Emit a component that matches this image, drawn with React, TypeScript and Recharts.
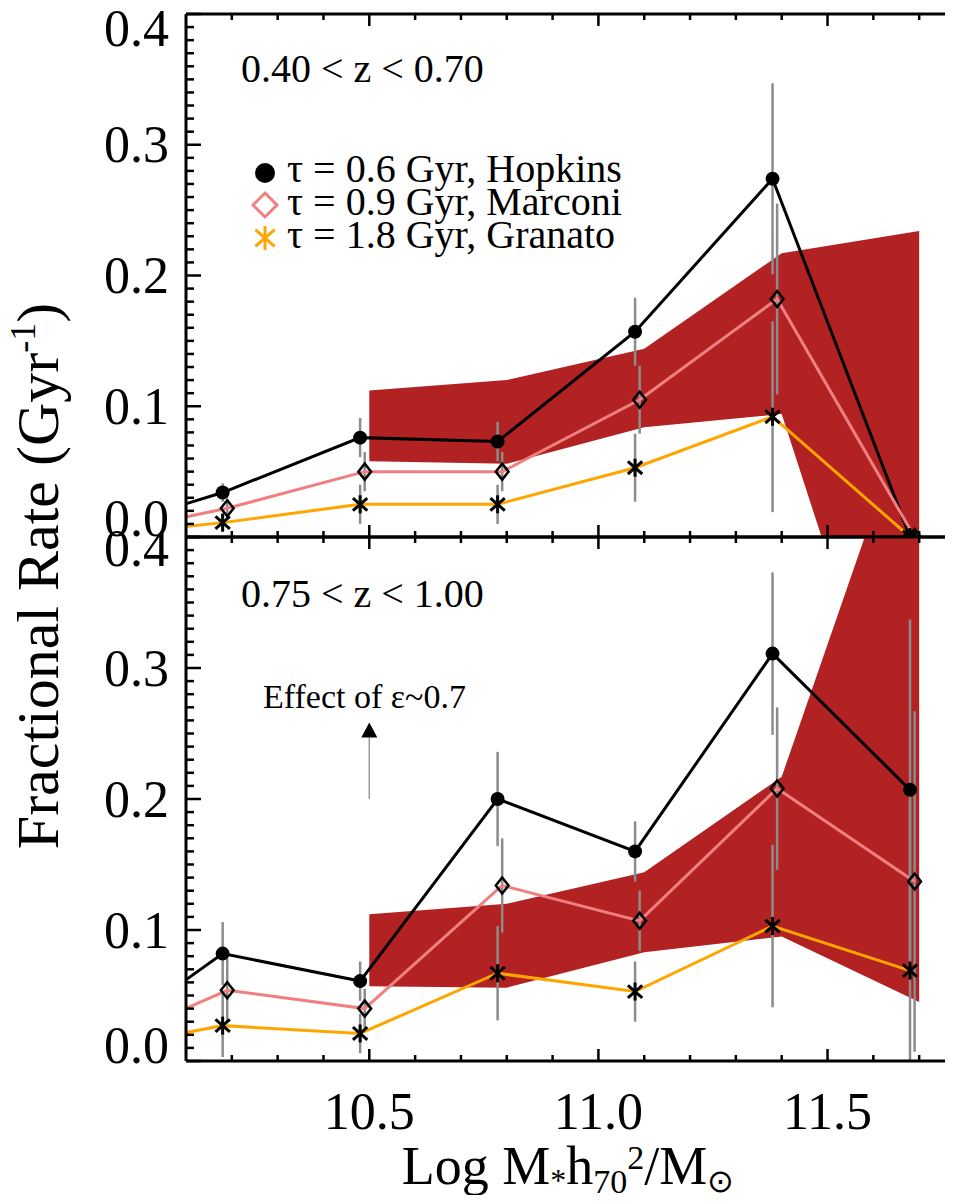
import React from 'react';
import {
  ComposedChart,
  Line,
  Area,
  XAxis,
  YAxis,
  ErrorBar,
  ReferenceLine,
  ReferenceDot,
} from 'recharts';

const FONT = "'Liberation Serif', 'Times New Roman', Times, serif";

// mass bins; the first one sits left of the plotted range, only its line segment shows
const massBins = [9.88, 10.18, 10.48, 10.78, 11.08, 11.38, 11.68];
const marconiShift = 0.01;

// 0.40 < z < 0.70
const hopkinsLow = [0.002, 0.034, 0.076, 0.073, 0.157, 0.274, 0.0];
const marconiLow = [0.0, 0.022, 0.05, 0.05, 0.105, 0.182, 0.0];
const granatoLow = [0.0, 0.011, 0.025, 0.025, 0.053, 0.092, 0.0];
const errLow = [0, 0.007, 0.015, 0.015, 0.026, 0.073, 0];

// 0.75 < z < 1.00
const hopkinsHigh = [0.007, 0.082, 0.061, 0.2, 0.16, 0.311, 0.207];
const marconiHigh = [0.008, 0.054, 0.04, 0.134, 0.107, 0.208, 0.137];
const granatoHigh = [0.007, 0.027, 0.021, 0.067, 0.053, 0.103, 0.069];
const errHigh = [0, 0.024, 0.015, 0.036, 0.023, 0.062, 0.13];

// shaded band
const bandX = [10.5, 10.8, 11.1, 11.4, 11.7];
const bandLowMin = [0.058, 0.056, 0.084, 0.094, -0.23];
const bandLowMax = [0.112, 0.12, 0.144, 0.217, 0.234];
const bandHighMin = [0.057, 0.056, 0.083, 0.095, 0.045];
const bandHighMax = [0.112, 0.12, 0.144, 0.217, 0.52];

const xTicks = [10.2, 10.3, 10.4, 10.5, 10.6, 10.7, 10.8, 10.9, 11.0, 11.1, 11.2, 11.3, 11.4, 11.5, 11.6, 11.7];
const xMajor = [10.5, 11.0, 11.5];
const xLabels = ['10.5', '11.0', '11.5'];
const yMajor = [0, 0.1, 0.2, 0.3, 0.4];
const yLabels = ['0.0', '0.1', '0.2', '0.3', '0.4'];
const yTicks: number[] = [];
for (let i = 0; i <= 40; i++) yTicks.push(i / 100);

// error bars stop at the lower axis, like the clipped plot
const toSeries = (vals: number[], errs: number[], shift: number) =>
  massBins.map((m, i) => ({ x: m + shift, y: vals[i], err: [Math.min(errs[i], vals[i]), errs[i]] }));
const toBand = (lo: number[], hi: number[]) => bandX.map((x, i) => ({ x, range: [lo[i], hi[i]] }));

const near = (a: number, b: number) => Math.abs(a - b) < 1e-6;
const majorIndex = (list: number[], v: number) => list.findIndex((m) => near(m, v));

const axisStyle = { stroke: '#000', strokeWidth: 3 };

const leftTick = (topShift: number, bottomShift: number) => (p: any) => {
  const v = p.payload.value;
  const k = majorIndex(yMajor, v);
  const len = k >= 0 ? 15 : 8;
  let dy = 0;
  if (k === 4) dy = topShift;
  if (k === 0) dy = bottomShift;
  return (
    <g key={`l${p.index}`}>
      <line x1={p.x} y1={p.y} x2={p.x + len} y2={p.y} stroke="#000" strokeWidth={2.5} />
      {k >= 0 && (
        <text x={p.x - 17} y={p.y + dy} textAnchor="end" dominantBaseline="central" fontSize={52} fontFamily={FONT} fill="#000">
          {yLabels[k]}
        </text>
      )}
    </g>
  );
};

const rightTick = (p: any) => {
  const len = majorIndex(yMajor, p.payload.value) >= 0 ? 15 : 8;
  return <line key={`r${p.index}`} x1={p.x} y1={p.y} x2={p.x - len} y2={p.y} stroke="#000" strokeWidth={2.5} />;
};

const topTick = (p: any) => {
  const len = majorIndex(xMajor, p.payload.value) >= 0 ? 12 : 6;
  return <line key={`t${p.index}`} x1={p.x} y1={p.y} x2={p.x} y2={p.y + len} stroke="#000" strokeWidth={2.5} />;
};

const bottomTick = (withLabels: boolean) => (p: any) => {
  const k = majorIndex(xMajor, p.payload.value);
  const len = k >= 0 ? 12 : 6;
  return (
    <g key={`b${p.index}`}>
      <line x1={p.x} y1={p.y} x2={p.x} y2={p.y - len} stroke="#000" strokeWidth={2.5} />
      {withLabels && k >= 0 && (
        <text x={p.x} y={p.y + 50} textAnchor="middle" dominantBaseline="central" fontSize={52} fontFamily={FONT} fill="#000">
          {xLabels[k]}
        </text>
      )}
    </g>
  );
};

const hidden = (p: any) => p.payload.x < 10.1;

const circleDot = (p: any) =>
  hidden(p) ? <g key={`c${p.index}`} /> : <circle key={`c${p.index}`} cx={p.cx} cy={p.cy} r={7} fill="#000" />;

const diamondDot = (p: any) => {
  if (hidden(p)) return <g key={`d${p.index}`} />;
  const s = 8;
  return (
    <polygon
      key={`d${p.index}`}
      points={`${p.cx},${p.cy - s} ${p.cx + s * 0.8},${p.cy} ${p.cx},${p.cy + s} ${p.cx - s * 0.8},${p.cy}`}
      fill="none"
      stroke="#000"
      strokeWidth={2.5}
    />
  );
};

const Asterisk = ({ cx, cy, s, color, w }: { cx: number; cy: number; s: number; color: string; w: number }) => (
  <g stroke={color} strokeWidth={w} strokeLinecap="butt">
    <line x1={cx} y1={cy - s} x2={cx} y2={cy + s} />
    <line x1={cx - s * 0.8} y1={cy - s * 0.7} x2={cx + s * 0.8} y2={cy + s * 0.7} />
    <line x1={cx - s * 0.8} y1={cy + s * 0.7} x2={cx + s * 0.8} y2={cy - s * 0.7} />
  </g>
);

const starDot = (p: any) =>
  hidden(p) ? (
    <g key={`s${p.index}`} />
  ) : (
    <g key={`s${p.index}`}>
      <Asterisk cx={p.cx} cy={p.cy} s={9} color="#000" w={3} />
    </g>
  );

const errStyle = { stroke: '#8c8c8c', strokeWidth: 2.5 };

function Panel(props: {
  height: number;
  topH: number;
  bottomH: number;
  hop: number[];
  mar: number[];
  gra: number[];
  err: number[];
  band: { x: number; range: number[] }[];
  topShift: number;
  bottomShift: number;
  withLabels: boolean;
  children?: React.ReactNode;
}) {
  const { height, topH, bottomH, hop, mar, gra, err, band, topShift, bottomShift, withLabels } = props;
  return (
    <ComposedChart width={1000} height={height} margin={{ top: 0, right: 0, bottom: 0, left: 0 }}>
      <XAxis
        xAxisId="b"
        type="number"
        dataKey="x"
        orientation="bottom"
        domain={[10.1, 11.8]}
        allowDataOverflow
        ticks={xTicks}
        interval={0}
        tickSize={0}
        tickMargin={0}
        tickLine={false}
        tick={bottomTick(withLabels)}
        axisLine={axisStyle}
        height={bottomH}
      />
      <XAxis
        xAxisId="t"
        type="number"
        dataKey="x"
        orientation="top"
        domain={[10.1, 11.8]}
        allowDataOverflow
        ticks={xTicks}
        interval={0}
        tickSize={0}
        tickMargin={0}
        tickLine={false}
        tick={topTick}
        axisLine={axisStyle}
        height={topH}
      />
      <YAxis
        yAxisId="l"
        type="number"
        orientation="left"
        domain={[0, 0.4]}
        allowDataOverflow
        ticks={yTicks}
        interval={0}
        tickSize={0}
        tickMargin={0}
        tickLine={false}
        tick={leftTick(topShift, bottomShift)}
        axisLine={axisStyle}
        width={186}
      />
      <YAxis
        yAxisId="r"
        type="number"
        orientation="right"
        domain={[0, 0.4]}
        allowDataOverflow
        ticks={yTicks}
        interval={0}
        tickSize={0}
        tickMargin={0}
        tickLine={false}
        tick={rightTick}
        axisLine={axisStyle}
        width={35}
      />
      <Area
        xAxisId="b"
        yAxisId="l"
        data={band}
        dataKey="range"
        type="linear"
        stroke="none"
        fill="#b22222"
        fillOpacity={1}
        isAnimationActive={false}
      />
      <Line
        xAxisId="b"
        yAxisId="l"
        data={toSeries(hop, err, 0)}
        dataKey="y"
        type="linear"
        stroke="#000"
        strokeWidth={3}
        dot={circleDot}
        activeDot={false}
        isAnimationActive={false}
      >
        <ErrorBar dataKey="err" direction="y" width={0} {...errStyle} />
      </Line>
      <Line
        xAxisId="b"
        yAxisId="l"
        data={toSeries(mar, err, marconiShift)}
        dataKey="y"
        type="linear"
        stroke="#f08080"
        strokeWidth={3}
        dot={diamondDot}
        activeDot={false}
        isAnimationActive={false}
      >
        <ErrorBar dataKey="err" direction="y" width={0} {...errStyle} />
      </Line>
      <Line
        xAxisId="b"
        yAxisId="l"
        data={toSeries(gra, err, 0)}
        dataKey="y"
        type="linear"
        stroke="#ffa500"
        strokeWidth={3}
        dot={starDot}
        activeDot={false}
        isAnimationActive={false}
      >
        <ErrorBar dataKey="err" direction="y" width={0} {...errStyle} />
      </Line>
      {props.children}
    </ComposedChart>
  );
}

const arrowHead = (p: any) => (
  <polygon points={`${p.cx},${p.cy - 15} ${p.cx + 8},${p.cy} ${p.cx - 8},${p.cy}`} fill="#000" />
);

const legendRows = [
  { label: 'τ = 0.6 Gyr, Hopkins', y: 182 },
  { label: 'τ = 0.9 Gyr, Marconi', y: 215 },
  { label: 'τ = 1.8 Gyr, Granato', y: 248 },
];

export default function App() {
  return (
    <div style={{ position: 'relative', width: 953, height: 1203, overflow: 'hidden', margin: -8, background: '#fff' }}>
      <div style={{ position: 'absolute', left: 0, top: 0 }}>
        <Panel
          height={560}
          topH={14}
          bottomH={23}
          hop={hopkinsLow}
          mar={marconiLow}
          gra={granatoLow}
          err={errLow}
          band={toBand(bandLowMin, bandLowMax)}
          topShift={14}
          bottomShift={-19}
          withLabels={false}
        />
      </div>
      <div style={{ position: 'absolute', left: 0, top: 520 }}>
        <Panel
          height={683}
          topH={17}
          bottomH={142}
          hop={hopkinsHigh}
          mar={marconiHigh}
          gra={granatoHigh}
          err={errHigh}
          band={toBand(bandHighMin, bandHighMax)}
          topShift={11}
          bottomShift={-16}
          withLabels
        >
          <ReferenceLine
            xAxisId="b"
            yAxisId="l"
            segment={[{ x: 10.5, y: 0.2 }, { x: 10.5, y: 0.247 }]}
            stroke="#999"
            strokeWidth={1.5}
          />
          <ReferenceDot xAxisId="b" yAxisId="l" x={10.5} y={0.247} r={8} shape={arrowHead} />
        </Panel>
      </div>
      <svg
        width={953}
        height={1203}
        style={{ position: 'absolute', left: 0, top: 0, pointerEvents: 'none' }}
        fontFamily={FONT}
      >
        <text x={58} y={576} transform="rotate(-90 58 576)" textAnchor="middle" fontSize={60} fill="#000">
          Fractional Rate (Gyr<tspan dy={-23} fontSize={36}>-1</tspan>
          <tspan dy={23}>)</tspan>
        </text>
        <text x={568} y={1184} textAnchor="middle" fontSize={54} fill="#000">
          Log M<tspan dy={7} fontSize={32}>*</tspan>
          <tspan dy={-7}>h</tspan>
          <tspan dy={9} fontSize={34}>70</tspan>
          <tspan dy={-24} fontSize={34}>2</tspan>
          <tspan dy={15}>/M</tspan>
          <tspan dy={8} fontSize={32}>⊙</tspan>
        </text>
        <text x={241} y={82} fontSize={40} fill="#000">0.40 &lt; z &lt; 0.70</text>
        <text x={241} y={607} fontSize={40} fill="#000">0.75 &lt; z &lt; 1.00</text>
        <text x={263} y={708} fontSize={34} fill="#000">Effect of ε~0.7</text>
        <circle cx={265} cy={173} r={10} fill="#000" />
        <polygon points="265,193 277,205 265,217 253,205" fill="#fff" stroke="#f08080" strokeWidth={3} />
        <Asterisk cx={265} cy={238} s={12} color="#ffa500" w={3} />
        {legendRows.map((r) => (
          <text key={r.label} x={287} y={r.y} fontSize={40} fill="#000">
            {r.label}
          </text>
        ))}
      </svg>
    </div>
  );
}
